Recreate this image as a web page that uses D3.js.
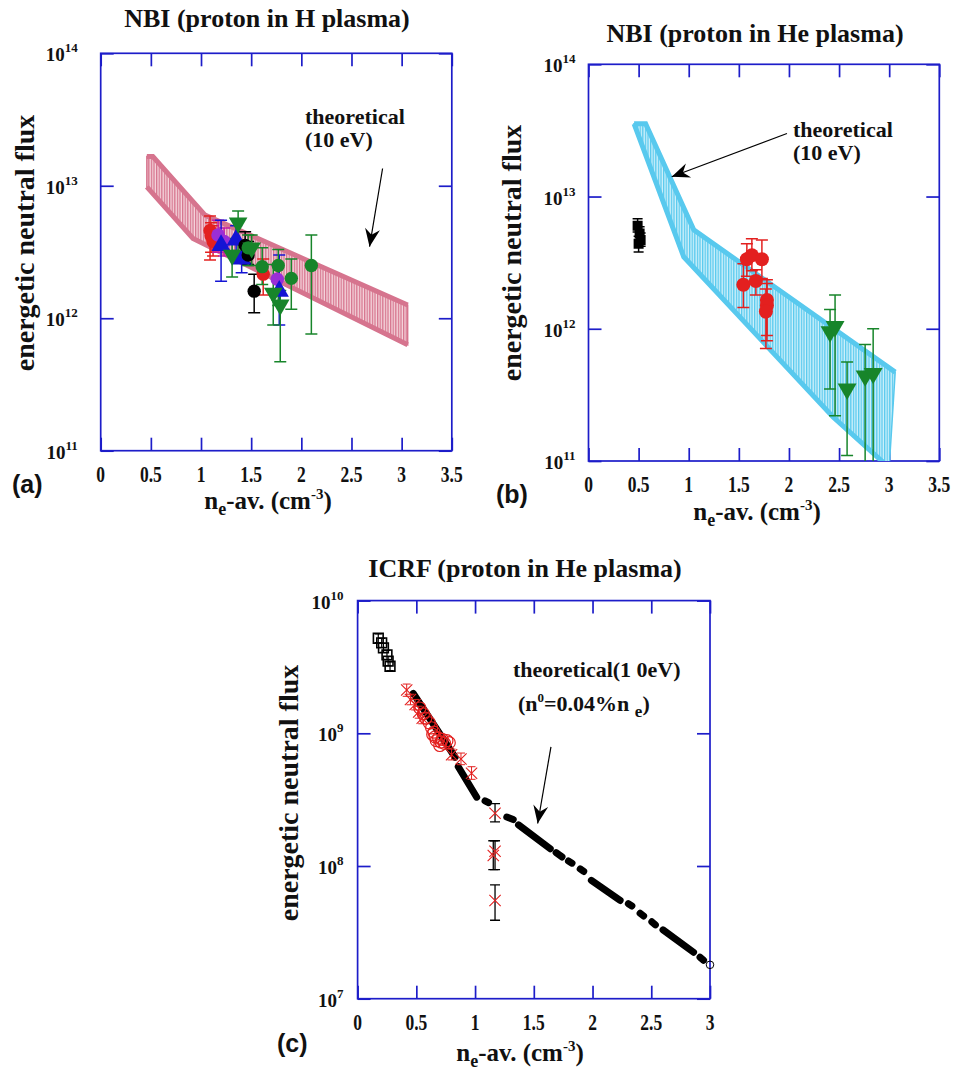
<!DOCTYPE html>
<html>
<head>
<meta charset="utf-8">
<script src="https://cdn.jsdelivr.net/npm/d3@7"></script>
<style>
  body { margin: 0; background: #fff; }
  text { font-family: "Liberation Serif", "Times New Roman", serif; font-weight: bold; fill: #111; }
  .tag { font-family: "Liberation Sans", Arial, sans-serif; }
</style>
</head>
<body>
<svg id="fig" width="957" height="1076"></svg>
<script>
// rows are [ne-av, flux, flux upper, flux lower]

// (a) NBI, proton in H plasma
var aRed = [[1.09, 4.6e12, 5.9e12, 2.75e12], [1.10, 4.2e12, 5.25e12, 3.15e12], [1.12, 3.8e12, 5.0e12, 2.95e12], [1.62, 2.15e12, 2.8e12, 1.5e12]];
var aPurple = [[1.17, 4.25e12, 5.5e12, 3.15e12], [1.23, 3.8e12, 4.8e12, 2.95e12], [1.76, 1.97e12, 2.5e12, 1.5e12]];
var aBlue = [[1.20, 3.55e12, 5.5e12, 1.9e12], [1.35, 3.9e12, 5.0e12, 2.8e12], [1.405, 2.8e12, 3.6e12, 2.2e12], [1.78, 1.6e12, 3.0e12, 8.9e11]];
var aBlack = [[1.44, 3.55e12, 4.5e12, 2.6e12], [1.47, 3.0e12, 3.8e12, 2.55e12], [1.53, 1.6e12, 2.15e12, 1.1e12]];
var aGreenCirc = [[1.47, 3.4e12, 4.25e12, 2.5e12], [1.61, 2.45e12, 3.4e12, 1.8e12], [1.77, 2.5e12, 3.3e12, 1.25e12], [1.90, 2.0e12, 2.8e12, 1.17e12], [2.10, 2.5e12, 4.25e12, 7.6e11]];
var aGreenTri = [[1.37, 5.25e12, 6.45e12, 3.25e12], [1.31, 3.0e12, 4.0e12, 2.05e12], [1.505, 3.4e12, 4.25e12, 2.5e12], [1.72, 1.55e12, 2.55e12, 8.9e11], [1.79, 1.26e12, 1.62e12, 4.7e11]];
var aBandTop = [[0.46, 1.66e13], [0.52, 1.66e13], [1.04, 6.0e12], [3.06, 1.26e12]];
var aBandBottom = [[0.46, 9.8e12], [0.92, 4.0e12], [3.06, 6.3e11]];

// (b) NBI, proton in He plasma
var bBlackSq = [[0.49, 6.0e12, 6.8e12, 5.4e12], [0.51, 5.25e12, 5.9e12, 4.7e12], [0.52, 4.7e12, 5.3e12, 4.2e12], [0.50, 4.4e12, 5.0e12, 3.8e12]];
var bRed = [[1.545, 2.15e12, 3.1e12, 1.45e12], [1.58, 3.35e12, 4.4e12, 2.5e12], [1.63, 3.6e12, 4.8e12, 2.75e12], [1.73, 3.35e12, 4.7e12, 2.4e12],
            [1.67, 2.3e12, 2.8e12, 1.8e12], [1.78, 1.65e12, 2.35e12, 8.9e11], [1.78, 1.5e12, 2.2e12, 8.1e11], [1.77, 1.35e12, 2.0e12, 7.1e11]];
var bGreenTri = [[2.41, 9.5e11, 1.4e12, 3.5e11], [2.46, 1.04e12, 1.8e12, 2.2e11], [2.58, 3.5e11, 5.6e11, 1.1e11], [2.76, 4.4e11, 7.6e11, 8e10], [2.84, 4.6e11, 1.0e12, 8e10]];
var bBandTop = [[0.455, 3.55e13], [0.57, 3.55e13], [1.05, 5.6e12], [3.06, 4.7e11]];
var bBandBottom = [[0.455, 3.55e13], [0.95, 3.5e12], [2.44, 2.15e11], [3.0, 8.9e10]];

// (c) ICRF, proton in He plasma
var cSquares = [[0.176, 5.2e9], [0.205, 4.8e9], [0.22, 4.4e9], [0.25, 3.9e9], [0.26, 3.5e9], [0.276, 3.2e9]];
// theory drawn as dashes: [x0, flux0, x1, flux1]
var cTheory = [[0.474, 2.0e9, 0.83, 6.6e8], [0.857, 5.6e8, 1.014, 3.3e8], [1.085, 3.1e8, 1.115, 3.0e8], [1.27, 2.34e8, 1.325, 2.24e8],
               [1.37, 2.04e8, 1.64, 1.35e8], [1.69, 1.26e8, 1.74, 1.17e8], [1.795, 1.09e8, 1.825, 1.05e8], [1.895, 9.5e7, 1.925, 9.1e7],
               [1.99, 7.8e7, 2.235, 5.5e7], [2.305, 5.2e7, 2.335, 5.0e7], [2.405, 4.4e7, 2.435, 4.2e7], [2.505, 3.8e7, 2.535, 3.6e7],
               [2.60, 3.3e7, 2.86, 2.24e7], [2.915, 2.05e7, 2.945, 1.95e7]];
var cTheoryEnd = [[3.0, 1.8e7]];
var cRedX = [[0.418, 2.12e9, 2.35e9, 1.9e9], [0.45, 1.8e9, 1.97e9, 1.64e9], [0.49, 1.65e9, 1.8e9, 1.5e9], [0.52, 1.45e9, 1.6e9, 1.3e9],
             [0.55, 1.3e9, 1.42e9, 1.18e9], [0.80, 6.9e8, 7.6e8, 6.3e8], [0.88, 6.4e8, 7.1e8, 5.8e8], [0.97, 5.0e8, 5.6e8, 4.5e8]];
var cRedCirc = [[0.53, 1.55e9], [0.56, 1.4e9], [0.58, 1.3e9], [0.61, 1.2e9], [0.63, 1.1e9], [0.64, 9.8e8], [0.65, 1.02e9], [0.66, 9.4e8],
                [0.67, 8.8e8], [0.69, 9.2e8], [0.70, 8.1e8], [0.71, 8.6e8], [0.72, 9.0e8], [0.74, 8.4e8], [0.76, 8.8e8], [0.78, 8.5e8]];
var cBlackErr = [[1.17, 2.5e8, 2.95e8, 2.15e8], [1.155, 1.2e8, 1.55e8, 9.4e7], [1.17, 1.29e8, 1.55e8, 9.4e7], [1.17, 5.5e7, 7.2e7, 3.9e7]];

var nbiXTicks = [0, 0.5, 1, 1.5, 2, 2.5, 3, 3.5];
var nbiYTicks = [1e11, 1e12, 1e13, 1e14];
var icrfXTicks = [0, 0.5, 1, 1.5, 2, 2.5, 3];
var icrfYTicks = [1e7, 1e8, 1e9, 1e10];

var BLUE = "#1d1dc9";
var svg = d3.select("#fig");
var defs = svg.append("defs");

defs.append("marker").attr("id", "head")
  .attr("viewBox", "-19 -8 20 16").attr("refX", 0).attr("refY", 0)
  .attr("markerWidth", 20).attr("markerHeight", 16)
  .attr("markerUnits", "userSpaceOnUse").attr("orient", "auto")
  .append("path").attr("d", "M0,0 L-18,-7.5 L-12,0 L-18,7.5 Z").attr("fill", "#000");

var hatch = function (id, light, dark) {
  var p = defs.append("pattern").attr("id", id)
    .attr("width", 2.6).attr("height", 10).attr("patternUnits", "userSpaceOnUse");
  p.append("rect").attr("width", 2.6).attr("height", 10).attr("fill", light);
  p.append("rect").attr("width", 1.3).attr("height", 10).attr("fill", dark);
};
hatch("hatchPink", "#f5d6dd", "#d6748e");
hatch("hatchCyan", "#d0f1fb", "#58c9ee");

var makePanel = function (p) {
  var x = d3.scaleLinear().domain([0, p.xTicks[p.xTicks.length - 1]]).range([p.left, p.right]);
  var y = d3.scaleLog().domain([p.yTicks[0], p.yTicks[p.yTicks.length - 1]]).range([p.bottom, p.top]);
  var g = svg.append("g");

  defs.append("clipPath").attr("id", "clip-" + p.id).append("rect")
    .attr("x", p.left).attr("y", p.top)
    .attr("width", p.right - p.left).attr("height", p.bottom - p.top);

  // inward ticks on all four sides
  var tl = 13;
  g.append("g").attr("transform", "translate(0," + p.bottom + ")")
    .call(d3.axisBottom(x).tickValues(p.xTicks).tickSize(-tl).tickFormat(""));
  g.append("g").attr("transform", "translate(0," + p.top + ")")
    .call(d3.axisTop(x).tickValues(p.xTicks).tickSize(-tl).tickFormat(""));
  g.append("g").attr("transform", "translate(" + p.left + ",0)")
    .call(d3.axisLeft(y).tickValues(p.yTicks).tickSize(-tl).tickFormat(""));
  g.append("g").attr("transform", "translate(" + p.right + ",0)")
    .call(d3.axisRight(y).tickValues(p.yTicks).tickSize(-tl).tickFormat(""));
  g.selectAll(".domain").remove();
  g.selectAll(".tick line").attr("stroke", BLUE).attr("stroke-width", 1.7);

  g.append("rect").attr("x", p.left).attr("y", p.top)
    .attr("width", p.right - p.left).attr("height", p.bottom - p.top)
    .attr("fill", "none").attr("stroke", BLUE).attr("stroke-width", 1.7);

  // x tick labels (tall narrow digits)
  g.append("g").selectAll("text").data(p.xTicks).enter().append("text")
    .attr("transform", function (d) { return "translate(" + x(d) + "," + (p.bottom + 31) + ") scale(1,1.35)"; })
    .attr("text-anchor", "middle").style("font-size", "17.5px")
    .text(function (d) { return String(d); });

  // y tick labels 10^n
  var yl = g.append("g").selectAll("text").data(p.yTicks).enter().append("text")
    .attr("x", p.left - p.yGap).attr("y", function (d) { return y(d) + 8; })
    .attr("text-anchor", "end").style("font-size", "19px");
  yl.append("tspan").text("10");
  yl.append("tspan").attr("dy", -9).style("font-size", "13px")
    .text(function (d) { return Math.round(Math.log10(d)); });

  g.append("text").attr("x", p.titleX).attr("y", p.titleY)
    .attr("text-anchor", "middle").style("font-size", "26px").text(p.title);

  g.append("text").attr("transform", "translate(" + p.ylabX + "," + p.ylabY + ") rotate(-90)")
    .attr("text-anchor", "middle").attr("dy", "0.3em").style("font-size", "28px")
    .text("energetic neutral flux");

  var xl = g.append("text").attr("x", p.xlabX).attr("y", p.xlabY)
    .attr("text-anchor", "middle").style("font-size", "25px");
  xl.append("tspan").text("n");
  xl.append("tspan").attr("dy", 6).style("font-size", "18px").text("e");
  xl.append("tspan").attr("dy", -6).text("-av. (cm");
  xl.append("tspan").attr("dy", -10).style("font-size", "15px").text("-3");
  xl.append("tspan").attr("dy", 10).text(")");

  g.append("text").attr("class", "tag").attr("x", p.tagX).attr("y", p.tagY)
    .style("font-size", "25px").text(p.tag);

  var plot = g.append("g").attr("clip-path", "url(#clip-" + p.id + ")");
  return { x: x, y: y, g: g, plot: plot };
};

var drawBand = function (s, top, bottom, pat, edge) {
  var line = d3.line().x(function (d) { return s.x(d[0]); }).y(function (d) { return s.y(d[1]); });
  var outline = top.concat(bottom.slice().reverse());
  s.plot.append("path").attr("d", line(outline) + "Z")
    .attr("fill", "url(#" + pat + ")").attr("stroke", edge).attr("stroke-width", 1.5);
  s.plot.append("path").attr("d", line(top)).attr("fill", "none").attr("stroke", edge).attr("stroke-width", 5);
  s.plot.append("path").attr("d", line(bottom)).attr("fill", "none").attr("stroke", edge).attr("stroke-width", 5);
};

var drawErrors = function (s, data, color, capW, width) {
  var eb = s.plot.append("g").attr("stroke", color).attr("stroke-width", width || 1.5)
    .selectAll("g").data(data).enter().append("g");
  eb.append("line")
    .attr("x1", function (d) { return s.x(d[0]); }).attr("x2", function (d) { return s.x(d[0]); })
    .attr("y1", function (d) { return s.y(d[2]); }).attr("y2", function (d) { return s.y(d[3]); });
  [2, 3].forEach(function (k) {
    eb.append("line")
      .attr("x1", function (d) { return s.x(d[0]) - capW / 2; }).attr("x2", function (d) { return s.x(d[0]) + capW / 2; })
      .attr("y1", function (d) { return s.y(d[k]); }).attr("y2", function (d) { return s.y(d[k]); });
  });
};

var drawMarks = function (s, data, type, size, fill, stroke, flip, sw) {
  s.plot.append("g").selectAll("path").data(data).enter().append("path")
    .attr("d", d3.symbol().type(type).size(size))
    .attr("transform", function (d) {
      return "translate(" + s.x(d[0]) + "," + s.y(d[1]) + ")" + (flip ? " rotate(180)" : "");
    })
    .attr("fill", fill).attr("stroke", stroke || "none").attr("stroke-width", sw || 1.1);
};

var drawArrow = function (s, from, to) {
  s.g.append("line")
    .attr("x1", s.x(from[0])).attr("y1", s.y(from[1]))
    .attr("x2", s.x(to[0])).attr("y2", s.y(to[1]))
    .attr("stroke", "#000").attr("stroke-width", 1.2).attr("marker-end", "url(#head)");
};

var note = function (s, px, py, size, build) {
  var t = s.g.append("text").attr("x", px).attr("y", py).style("font-size", size + "px");
  build(t);
};

var RED = "#e3201f", PURPLE = "#9a2fd6", BLUE_M = "#1414d4", GREEN = "#17852a";

// ---- (a)
var pa = makePanel({ id: "a", left: 100.7, right: 451.8, top: 53.3, bottom: 450.7,
  xTicks: nbiXTicks, yTicks: nbiYTicks, yGap: 23,
  title: "NBI (proton in H plasma)", titleX: 267, titleY: 27,
  ylabX: 26, ylabY: 243, xlabX: 268, xlabY: 509, tag: "(a)", tagX: 12, tagY: 493 });

drawBand(pa, aBandTop, aBandBottom, "hatchPink", "#d6748e");
drawErrors(pa, aRed, RED, 12);
drawErrors(pa, aPurple, "#c21da8", 12);
drawErrors(pa, aBlue, BLUE_M, 12);
drawErrors(pa, aBlack, "#000", 12);
drawErrors(pa, aGreenCirc, GREEN, 12);
drawErrors(pa, aGreenTri, GREEN, 12);
drawMarks(pa, aRed, d3.symbolCircle, 140, RED);
drawMarks(pa, aPurple, d3.symbolCircle, 145, PURPLE);
drawMarks(pa, aBlue, d3.symbolTriangle, 160, BLUE_M);
drawMarks(pa, aBlack, d3.symbolCircle, 140, "#000");
drawMarks(pa, aGreenCirc, d3.symbolCircle, 140, GREEN);
drawMarks(pa, aGreenTri, d3.symbolTriangle, 150, GREEN, null, true);

note(pa, 305, 124, 22, function (t) { t.text("theoretical"); });
note(pa, 305, 147, 22, function (t) { t.text("(10 eV)"); });
drawArrow(pa, [2.81, 1.35e13], [2.68, 3.47e12]);

// ---- (b)
var pb = makePanel({ id: "b", left: 588.5, right: 939.3, top: 64.3, bottom: 461,
  xTicks: nbiXTicks, yTicks: nbiYTicks, yGap: 13,
  title: "NBI (proton in He plasma)", titleX: 755, titleY: 42,
  ylabX: 513, ylabY: 253, xlabX: 757, xlabY: 520, tag: "(b)", tagX: 496, tagY: 503 });

drawBand(pb, bBandTop, bBandBottom, "hatchCyan", "#58c9ee");
drawErrors(pb, bBlackSq, "#000", 10);
drawErrors(pb, bRed, RED, 12);
drawErrors(pb, bGreenTri, GREEN, 12);
drawMarks(pb, bBlackSq, d3.symbolSquare, 100, "#000");
drawMarks(pb, bRed, d3.symbolCircle, 155, RED);
drawMarks(pb, bGreenTri, d3.symbolTriangle, 155, GREEN, null, true);

note(pb, 793, 137, 22, function (t) { t.text("theoretical"); });
note(pb, 793, 160, 22, function (t) { t.text("(10 eV)"); });
drawArrow(pb, [1.98, 3.0e13], [0.83, 1.41e13]);

// ---- (c)
var pc = makePanel({ id: "c", left: 357.6, right: 710, top: 600.6, bottom: 998.7,
  xTicks: icrfXTicks, yTicks: icrfYTicks, yGap: 14,
  title: "ICRF (proton in He plasma)", titleX: 525, titleY: 577,
  ylabX: 290, ylabY: 793, xlabX: 520, xlabY: 1061, tag: "(c)", tagX: 277, tagY: 1052 });

drawErrors(pc, cSquares.map(function (d) { return [d[0], d[1], d[1] * 1.08, d[1] / 1.08]; }), "#000", 7, 1.2);
drawMarks(pc, cSquares, d3.symbolSquare, 95, "none", "#000", false, 1.6);
pc.plot.append("g").selectAll("line").data(cTheory).enter().append("line")
  .attr("x1", function (d) { return pc.x(d[0]); }).attr("y1", function (d) { return pc.y(d[1]); })
  .attr("x2", function (d) { return pc.x(d[2]); }).attr("y2", function (d) { return pc.y(d[3]); })
  .attr("stroke", "#000").attr("stroke-width", 7).attr("stroke-linecap", "round");
pc.g.append("g").selectAll("path").data(cTheoryEnd).enter().append("path")
  .attr("d", d3.symbol().type(d3.symbolCircle).size(45))
  .attr("transform", function (d) { return "translate(" + pc.x(d[0]) + "," + pc.y(d[1]) + ")"; })
  .attr("fill", "none").attr("stroke", "#000").attr("stroke-width", 1);
drawErrors(pc, cRedX, RED, 8, 1);
drawMarks(pc, cRedCirc, d3.symbolCircle, 115, "none", RED, false, 1.2);
drawErrors(pc, cBlackErr, "#000", 10, 1.3);
drawMarks(pc, cRedX.concat(cBlackErr), d3.symbolTimes, 85, "none", RED);

note(pc, 513, 677, 22, function (t) { t.text("theoretical(1 0eV)"); });
note(pc, 518, 711, 22, function (t) {
  t.append("tspan").text("(n");
  t.append("tspan").attr("dy", -9).style("font-size", "13px").text("0");
  t.append("tspan").attr("dy", 9).text("=0.04%n ");
  t.append("tspan").attr("dy", 6).style("font-size", "17px").text("e");
  t.append("tspan").attr("dy", -6).text(")");
});
drawArrow(pc, [1.646, 7.9e8], [1.533, 2.09e8]);
</script>
</body>
</html>
